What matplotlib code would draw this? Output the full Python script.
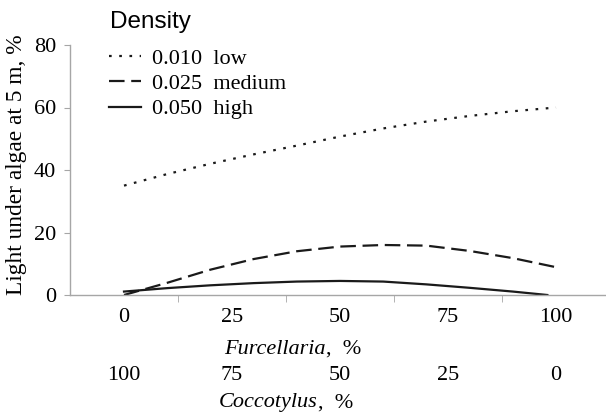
import matplotlib
matplotlib.use("Agg")
import matplotlib.pyplot as plt
from matplotlib.transforms import blended_transform_factory

# Data
furcellaria = [0, 10, 20, 30, 40, 50, 60, 70, 80, 90, 100]
low = [35.0, 38.7, 42.0, 45.0, 47.8, 50.7, 53.3, 55.5, 57.3, 58.8, 60.0]
medium = [0.0, 3.9, 8.1, 11.5, 14.0, 15.5, 16.0, 15.8, 14.1, 11.8, 8.9]
furcellaria_high = [0, 10, 20, 30, 40, 50, 60, 70, 80, 90, 98]
high = [1.1, 2.2, 3.1, 3.8, 4.3, 4.5, 4.3, 3.4, 2.3, 1.1, 0.0]

cat_ticks = [0, 25, 50, 75, 100]
furc_labels = ["0", "25", "50", "75", "100"]
cocc_labels = ["100", "75", "50", "25", "0"]
sep_ticks = [12.5, 37.5, 62.5, 87.5]
legend_labels = ["0.010  low", "0.025  medium", "0.050  high"]

W, H = 606, 416
fig = plt.figure(figsize=(W / 100, H / 100), dpi=100)
ax = fig.add_axes([70 / W, (H - 295) / H, 536 / W, 250 / H])

serif = "Liberation Serif"
sans = "Liberation Sans"
fs = 16
gray = "#a6a6a6"

l1, = ax.plot(furcellaria, low, color="#1a1a1a", lw=1.6, linestyle=(0, (1.2, 3.4)))
l2, = ax.plot(furcellaria, medium, color="#1a1a1a", lw=1.6, linestyle=(0, (7, 3)))
l3, = ax.plot(furcellaria_high, high, color="#1a1a1a", lw=1.6, linestyle="-")

ax.set_xlim(-12.5, -12.5 + 536 / 4.32)
ax.set_ylim(0, 80)
ax.set_yticks([0, 20, 40, 60, 80])
ax.set_xticks(cat_ticks)
ax.set_xticklabels(furc_labels, family=serif, fontsize=fs)
ax.set_xticks(sep_ticks, minor=True)
ax.tick_params(axis="x", which="major", length=0, pad=9)
ax.tick_params(axis="x", which="minor", length=5, color=gray, direction="out")
ax.tick_params(axis="y", length=4, color=gray, direction="out", pad=6)
for lab in ax.get_yticklabels():
    lab.set_family(serif)
    lab.set_fontsize(fs)

for s in ["top", "right"]:
    ax.spines[s].set_visible(False)
for s in ["left", "bottom"]:
    ax.spines[s].set_color(gray)
    ax.spines[s].set_linewidth(1.0)

trans = blended_transform_factory(ax.transData, fig.transFigure)
for x, lab in zip(cat_ticks, cocc_labels):
    ax.text(x, (H - 376) / H, lab, transform=trans, ha="center", va="center",
            family=serif, fontsize=fs)

fig.text(326 / W, (H - 349) / H, "Furcellaria", ha="right", va="center",
         family=serif, fontsize=fs, style="italic")
fig.text(326 / W, (H - 349) / H, ",  %", ha="left", va="center",
         family=serif, fontsize=fs)
fig.text(318 / W, (H - 403) / H, "Coccotylus", ha="right", va="center",
         family=serif, fontsize=fs, style="italic")
fig.text(318 / W, (H - 403) / H, ",  %", ha="left", va="center",
         family=serif, fontsize=fs)

fig.text(17 / W, (H - 165) / H, "Light under algae at 5 m, %", rotation=90,
         ha="center", va="center", family=serif, fontsize=16.8)

fig.text(110 / W, (H - 22) / H, "Density", ha="left", va="center",
         family=sans, fontsize=17.5)

leg = fig.legend([l1, l2, l3], legend_labels, loc="upper left",
                 bbox_to_anchor=(109 / W, 1 - 48 / H), frameon=False,
                 prop={"family": serif, "size": fs}, handlelength=1.45,
                 handletextpad=0.5, labelspacing=0.22,
                 borderaxespad=0, borderpad=0)

fig.savefig("out.png", dpi=100)
